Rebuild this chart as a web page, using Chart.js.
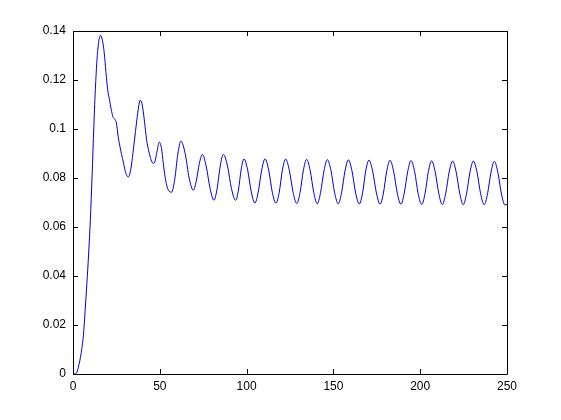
<!DOCTYPE html>
<html lang="en">
<head>
  <meta charset="UTF-8">
  <title>Response curve</title>
  <script src="https://cdn.jsdelivr.net/npm/chart.js"></script>
  <style>
    html, body { margin: 0; padding: 0; background: #fff; }
    canvas { display: block; }
  </style>
</head>
<body>
  <canvas id="response-chart" width="561" height="420"></canvas>

  <script>
    // sample positions (x) and values (y)
    const xValues = [
      0, 1, 2, 3, 4, 5, 6, 7, 8, 9, 10, 11, 12, 13, 14, 15, 15.9, 17, 18, 19, 20,
      21, 22, 23, 24, 25, 26, 27, 28, 29, 30, 31, 31.9, 33, 34, 35, 36, 37, 38, 38.6,
      39.5, 40.5, 41.5, 42.5, 43.5, 44.5, 45.5, 46.3, 47.3, 48.3, 49.7, 51, 52, 53, 54, 55,
      56.8, 58.6, 60.4, 62.2, 64.6, 66.9, 69.3, 71.0, 72.8, 74.5, 76.7, 79.0,
      81.2, 83.0, 84.8, 86.6, 89.0, 91.3, 93.7, 95.3, 96.9, 98.5, 100.6, 102.7,
      104.8, 106.7, 108.7, 110.6, 112.7, 114.8, 116.9, 118.8, 120.6, 122.5, 124.6, 126.8,
      128.9, 130.8, 132.7, 134.6, 136.6, 138.7, 140.7, 142.6, 144.6, 146.5, 148.6, 150.7,
      152.8, 154.7, 156.7, 158.6, 160.7, 162.8, 164.9, 166.8, 168.6, 170.5, 172.6, 174.8,
      176.9, 178.8, 180.7, 182.6, 184.7, 186.8, 188.9, 190.8, 192.8, 194.7, 196.8, 198.8,
      200.9, 202.8, 204.7, 206.6, 208.6, 210.7, 212.7, 214.7, 216.7, 218.7, 220.7, 222.8,
      224.8, 226.7, 228.7, 230.6, 232.7, 234.8, 236.9, 238.8, 240.8, 242.7, 244.7, 246.8,
      248.8, 250
    ];
    const yValues = [
      0, 0.0001, 0.0004, 0.0025, 0.0057, 0.010, 0.0158, 0.026, 0.037, 0.049, 0.063, 0.081,
      0.101, 0.118, 0.130, 0.1365, 0.1382, 0.136, 0.131, 0.123, 0.116,
      0.112, 0.108, 0.105, 0.104, 0.1025, 0.097, 0.093, 0.0895, 0.0865, 0.083, 0.081, 0.0804,
      0.0825, 0.087, 0.093, 0.099, 0.105, 0.110, 0.1117,
      0.111, 0.107, 0.101, 0.095, 0.0915, 0.0885, 0.0865, 0.0859, 0.087, 0.0905, 0.0946,
      0.092, 0.086, 0.0807, 0.077, 0.075,
      0.0742, 0.0794, 0.0898, 0.095, 0.090, 0.080, 0.075, 0.0787, 0.0860, 0.0896, 0.0849, 0.0756,
      0.0709, 0.0756, 0.0849, 0.0896, 0.0849, 0.0756, 0.0709, 0.0751, 0.0836, 0.0878, 0.0833, 0.0743,
      0.0698, 0.0743, 0.0833, 0.0878, 0.0833, 0.0742, 0.0697, 0.0742, 0.0832, 0.0877, 0.0832, 0.0741,
      0.0696, 0.0741, 0.0831, 0.0876, 0.0831, 0.0740, 0.0695, 0.0740, 0.0830, 0.0875, 0.0830, 0.0740,
      0.0695, 0.0740, 0.0829, 0.0874, 0.0829, 0.0739, 0.0694, 0.0739, 0.0828, 0.0873, 0.0828, 0.0738,
      0.0693, 0.0738, 0.0827, 0.0872, 0.0827, 0.0738, 0.0693, 0.0738, 0.0826, 0.0871, 0.0826, 0.0737,
      0.0692, 0.0737, 0.0826, 0.0870, 0.0826, 0.0737, 0.0692, 0.0737, 0.0825, 0.0869, 0.0825, 0.0736,
      0.0691, 0.0736, 0.0825, 0.0869, 0.0825, 0.0736, 0.0691, 0.0736, 0.0824, 0.0868, 0.0824, 0.0735,
      0.0690, 0.0692
    ];

    const xTicks = [0, 50, 100, 150, 200, 250];
    const yTicks = [0, 0.02, 0.04, 0.06, 0.08, 0.1, 0.12, 0.14];
    const xTickLabels = ['0', '50', '100', '150', '200', '250'];
    const yTickLabels = ['0', '0.02', '0.04', '0.06', '0.08', '0.1', '0.12', '0.14'];

    const points = xValues.map((x, i) => ({ x: x, y: yValues[i] }));

    // box round the axes with inward ticks on all four sides
    const boxPlugin = {
      id: 'box',
      afterDraw(chart) {
        const ctx = chart.ctx;
        const a = chart.chartArea;
        const xs = chart.scales.x;
        const ys = chart.scales.y;
        const len = 5;
        ctx.save();
        ctx.strokeStyle = '#000';
        ctx.lineWidth = 1;
        ctx.beginPath();
        ctx.rect(Math.round(a.left) + 0.5, Math.round(a.top) + 0.5,
          Math.round(a.right - a.left), Math.round(a.bottom - a.top));
        xTicks.forEach(v => {
          const px = Math.round(xs.getPixelForValue(v)) + 0.5;
          ctx.moveTo(px, a.bottom); ctx.lineTo(px, a.bottom - len);
          ctx.moveTo(px, a.top); ctx.lineTo(px, a.top + len);
        });
        yTicks.forEach(v => {
          const py = Math.round(ys.getPixelForValue(v)) + 0.5;
          ctx.moveTo(a.left, py); ctx.lineTo(a.left + len, py);
          ctx.moveTo(a.right, py); ctx.lineTo(a.right - len, py);
        });
        ctx.stroke();
        ctx.restore();
      }
    };

    const whiteBg = {
      id: 'whiteBg',
      beforeDraw(chart) {
        const ctx = chart.ctx;
        ctx.save();
        ctx.fillStyle = '#fff';
        ctx.fillRect(0, 0, chart.width, chart.height);
        ctx.restore();
      }
    };

    const canvas = document.getElementById('response-chart');
    new Chart(canvas.getContext('2d'), {
      type: 'line',
      data: {
        datasets: [{
          data: points,
          borderColor: '#0000d8',
          borderWidth: 1,
          pointRadius: 0,
          fill: false,
          cubicInterpolationMode: 'monotone'
        }]
      },
      options: {
        responsive: false,
        animation: false,
        events: [],
        layout: { padding: { left: 0, top: 31, right: 54, bottom: 0 } },
        plugins: { legend: { display: false }, tooltip: { enabled: false } },
        scales: {
          x: {
            type: 'linear',
            min: 0,
            max: 250,
            afterBuildTicks: s => { s.ticks = xTicks.map(v => ({ value: v })); },
            afterFit: s => { s.height = 46; },
            grid: { display: false, drawTicks: false },
            border: { display: false },
            ticks: {
              autoSkip: false,
              maxRotation: 0,
              padding: 5,
              color: '#000',
              font: { family: 'Liberation Sans, Arial, sans-serif', size: 12 },
              callback: (v, i) => xTickLabels[i]
            }
          },
          y: {
            type: 'linear',
            min: 0,
            max: 0.14,
            afterBuildTicks: s => { s.ticks = yTicks.map(v => ({ value: v })); },
            afterFit: s => { s.width = 73; },
            grid: { display: false, drawTicks: false },
            border: { display: false },
            ticks: {
              autoSkip: false,
              padding: 7,
              color: '#000',
              font: { family: 'Liberation Sans, Arial, sans-serif', size: 12 },
              callback: (v, i) => yTickLabels[i]
            }
          }
        }
      },
      plugins: [whiteBg, boxPlugin]
    });
  </script>
</body>
</html>
